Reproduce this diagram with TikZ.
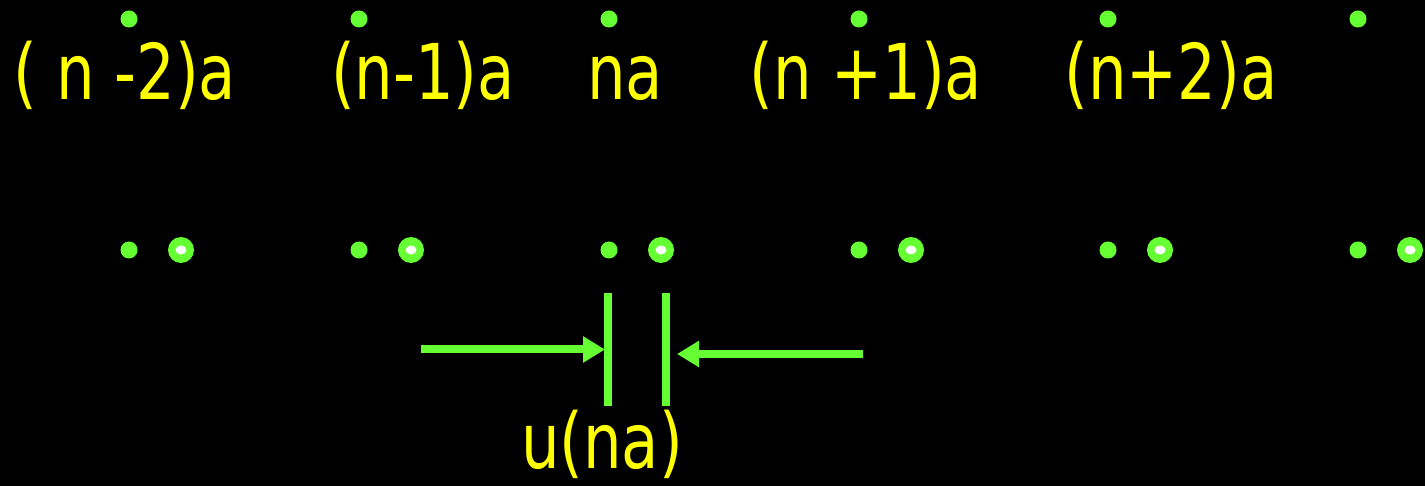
\documentclass[tikz,border=0pt]{standalone}
\usepackage{fontspec}
\setmainfont{DejaVu Sans}
\usetikzlibrary{arrows.meta}
\definecolor{dotgreen}{RGB}{102,255,51}
\definecolor{lblyellow}{RGB}{255,255,0}
\newcommand{\narrowlbl}[1]{\scalebox{0.79}[1]{#1}}

\begin{document}
\begin{tikzpicture}[x=1pt, y=-1pt,
  lbl/.style={anchor=base, inner sep=0pt, text=lblyellow, font=\fontsize{77}{80}\selectfont},
  bar/.style={dotgreen, line width=8pt},
  push/.style={dotgreen, line width=8pt, -{Triangle[length=22pt, width=25pt]}}]
\useasboundingbox (0,0) rectangle (1425,486);
\fill[black] (0,0) rectangle (1425,486);
% --- lattice sites (top) and displaced atoms (middle row) ---
\foreach \x in {129,359,609,859,1108,1358} {
  \fill[dotgreen] (\x,19) circle (8.5pt);
  \fill[dotgreen] (\x,250) circle (8.5pt);
  \fill[dotgreen] (\x+52,250) circle (13pt);
  \fill[white] (\x+52,250) ellipse (5.5pt and 4.5pt);
}
% --- site labels ---
\node[lbl] (lm2) at (125,100) {\narrowlbl{( n -2)a}};
\node[lbl] (lm1) at (423,100) {\narrowlbl{(n-1)a}};
\node[lbl] (l0)  at (625,100) {\narrowlbl{na}};
\node[lbl] (lp1) at (866,100) {\narrowlbl{(n +1)a}};
\node[lbl] (lp2) at (1171,100) {\narrowlbl{(n+2)a}};
% --- displacement u(na) ---
\coordinate (barLtop) at (608,293);
\coordinate (barLbot) at (608,406);
\coordinate (barRtop) at (665.5,293);
\coordinate (barRbot) at (665.5,406);
\draw[bar] (barLtop) -- (barLbot);
\draw[bar] (barRtop) -- (barRbot);
\coordinate (pushL) at (421,349.5);
\coordinate (hitL) at (605,349.5);
\coordinate (pushR) at (863,354);
\coordinate (hitR) at (677,354);
\draw[push] (pushL) -- (hitL);
\draw[push] (pushR) -- (hitR);
\node[lbl] (disp) at (602,468) {\narrowlbl{u(na)}};
\end{tikzpicture}
\end{document}
